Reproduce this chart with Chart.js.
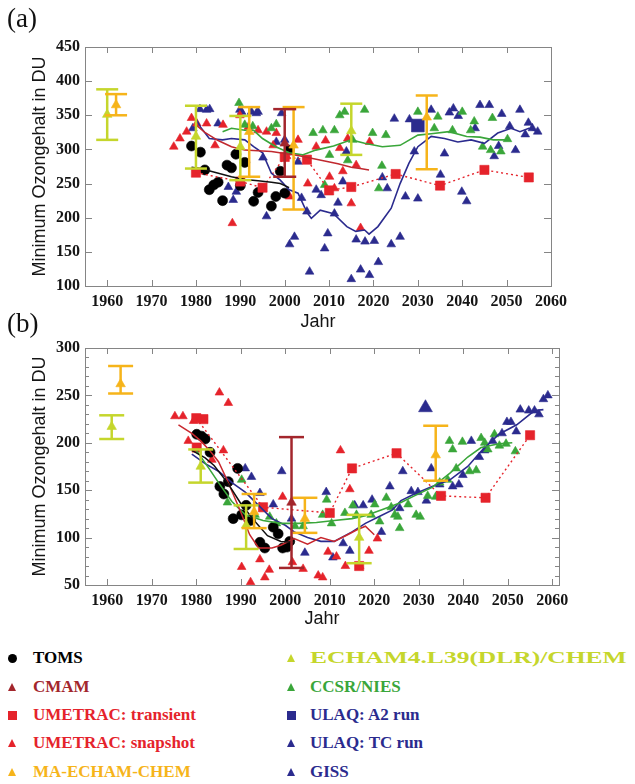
<!DOCTYPE html>
<html><head><meta charset="utf-8">
<script src="https://cdn.jsdelivr.net/npm/chart.js@4.4.0/dist/chart.umd.min.js"></script>
<style>
body{margin:0;background:#fff;width:635px;height:784px;overflow:hidden;position:relative;}
canvas{position:absolute;left:0;}
#ca{top:0}
#cb{top:333px}
.lab{position:absolute;left:7px;font-family:"Liberation Serif",serif;font-size:27px;color:#111;line-height:30px}
.leg{position:absolute;font-family:"Liberation Serif",serif;font-weight:bold;font-size:17px;white-space:nowrap;line-height:20px;height:20px}
.sym{position:absolute;}
.tri{width:0;height:0;border-left:4.5px solid transparent;border-right:4.5px solid transparent;border-bottom:8px solid}
.cir{width:9px;height:9px;border-radius:50%}
.sq{width:9px;height:9px}
</style>
</head>
<body>
<canvas id="ca" width="635" height="333"></canvas>
<canvas id="cb" width="635" height="297"></canvas>
<div class="lab" style="top:3px">(a)</div>
<div class="lab" style="top:308px">(b)</div>
<div id="legend"></div>
<script>
// ---------- axes ----------
const xTickYears = [1960,1970,1980,1990,2000,2010,2020,2030,2040,2050,2060];
const yTicksA = [100,150,200,250,300,350,400,450];
const yTicksB = [50,100,150,200,250,300];
const yMinorB = [60,70,80,90,110,120,130,140,160,170,180,190,210,220,230,240,260,270,280,290];

// ---------- colours ----------
const C_BLACK='#000000', C_CMAM='#a3262c', C_RED='#e5232b', C_MAE='#f6b41a', C_E4='#c5d62c', C_GREEN='#3aa63a', C_BLUE='#2b2b8e';

// ---------- panel (a) ----------
const tomsA_yr = [1979,1981,1982,1983,1984,1985,1986,1987,1988,1989,1990,1991,1993,1994,1997,1998,1999,2000,2001];
const tomsA_du = [305,296,270,241,248,252,225,277,273,293,247,281,224,237,217,231,268,236,299];
const tomsLineA_yr = [1979,1981,1984,1988,1991,1994,1997,1999,2001];
const tomsLineA_du = [274,272,267,260,256,254,252,250,244];

const cmamA_yr = [2000], cmamA_mid = [309], cmamA_lo = [260], cmamA_hi = [359];
const cmamLineA_yr = [1980,1982,1985,1988,1991,1994,1997,2000,2003,2006,2009,2012,2015,2017,2019];
const cmamLineA_du = [336,325,313,304,299,298,297,294,291,287,283,279,274,272,270];

const umtA_yr = [1980,1990,1995,2000,2005,2010,2015,2025,2035,2045,2055];
const umtA_du = [266,253,244,289,285,240,245,264,247,270,259];

const umsA_yr = [1975,1976.4,1977.9,1979,1980.2,1982.4,1984.3,1986.1,1988.2,1989.9,1991.8,1994,1995.9,1997.4,1998.1,2000.4,2001.1,2003,2005.2,2007.1,2009.2,2010.1,2011.2,2012.4,2013.1,2014.2,2015,2016.1,2017.1,2019.1];
const umsA_du = [304,316,326,346,338,338,306,336,192,350,333,328,326,306,324,290,231,314,250,304,313,260,243,302,268,316,221,277,185,311];

const maeA_yr = [1962,1992,2002,2032], maeA_mid = [365,326,306,347], maeA_lo = [350,260,212,271], maeA_hi = [381,362,362,379];
const e4A_yr = [1960,1980,1990,2015], e4A_mid = [351,319,304,327], e4A_lo = [314,272,255,292], e4A_hi = [388,364,349,367];

const ccsrA_yr = [1989.7,1991,1992.8,1997,1998.1,2006.4,2008.6,2009,2010.1,2011.2,2012.4,2013.5,2014.2,2015.3,2018,2019.8,2021.2,2021.9,2022.8,2030,2033.7,2034.5,2037.8,2040,2041.9,2042.7,2044.6,2046.4,2046.8,2048.7,2050.2];
const ccsrA_du = [368,336,334,331,337,324,328,248,292,328,350,355,284,314,358,324,243,276,321,355,331,348,328,355,328,341,304,299,346,297,315];
const ccsrLineA_yr = [1986,1988,1991,1993,1995,1998,2001,2004,2007,2011,2015,2018,2022,2026,2030,2033,2037,2041,2044,2047,2050];
const ccsrLineA_du = [326,331,328,328,316,304,295,292,299,305,314,309,304,306,321,323,326,319,318,314,314];

const ulaqA2A_yr = [2030], ulaqA2A_du = [335];

const blueA_yr = [1979.3,1980.9,1982.4,1983.1,1985,1987.3,1988.4,1989.1,1989.9,1990.3,1992.5,1993.6,1994,1995.1,1995.9,1998.1,1999.3,2000,2001.1,2002.2,2003,2003.8,2005,2005.6,2007.1,2008.2,2009,2009.7,2011.2,2012,2013.1,2013.9,2015,2016.1,2017.1,2018.1,2019.1,2020.2,2021.1,2022,2023.1,2024,2024.7,2026,2027.2,2028.1,2029.2,2030,2033,2035.1,2036,2037.1,2038,2039.1,2039.9,2041,2042.9,2044,2046.1,2047.2,2048.2,2048.9,2050.7,2052,2053,2054.2,2054.9,2055.8,2057];
const blueA_du = [331,359,358,359,338,245,226,238,358,355,355,353,355,288,202,311,353,314,161,172,282,229,209,121,241,233,155,177,206,222,253,297,110,168,124,165,116,166,135,259,243,161,345,172,231,344,297,228,358,263,294,354,360,349,238,224,331,365,365,290,305,352,334,299,358,322,339,331,326];
const blueLineA_yr = [1980,1981,1983,1986,1988,1991,1993,1995,1997,1999,2001,2003,2005,2006,2008,2011,2014,2016,2018,2019,2021,2024,2026,2028,2030,2032,2033,2036,2039,2042,2045,2048,2051,2053,2055,2057];
const blueLineA_du = [345,333,316,314,316,314,304,295,265,255,241,236,208,199,211,206,187,180,182,176,187,214,250,280,304,314,319,316,311,314,309,324,331,326,331,326];

// ---------- panel (b) ----------
const tomsB_yr = [1980.1,1981.2,1982,1983.1,1985.3,1986.2,1987.2,1988.3,1989.3,1990.2,1991.2,1992.2,1994.3,1995.4,1997.3,1998.4,1999.4,2000.4,2001];
const tomsB_du = [209,207,204,190,154,146,159,120,173,124,134,118,95,89,111,104,89,90,96];
const tomsLineB_yr = [1979,1982,1984,1987,1990,1993,1996,1999,2002];
const tomsLineB_du = [192,184,176,158,136,118,102,96,95];

const cmamB_yr = [2001.4], cmamB_mid = [137], cmamB_lo = [68], cmamB_hi = [206];
const redLineB_yr = [1976,1979,1981,1983,1985,1987,1990,1992,1994,1997,1999,2002,2005,2008,2011,2014,2016,2018,2020];
const redLineB_du = [219,210,202,192,180,160,127,103,89,89,92,99,93,100,96,103,108,112,103];

const umtB_yr = [1980,1995,2010,2015,2025,2035,2045,2055];
const umtB_du = [226,132,126,173,189,144,142,208];
const umtExtraB_yr = [1981.6,1980.1,2016.6];
const umtExtraB_du = [225,195,70];

const umsB_yr = [1975.2,1977,1978.2,1979.4,1983.5,1985.2,1986.1,1987.2,1990.2,1992.2,1994.3,1995.4,1996.4,1999.4,2001.6,2004,2007.4,2008.4,2009.6,2011.5,2012.4,2013.5,2014.5,2016.7,2018.8,2020.7];
const umsB_du = [228,228,202,223,182,253,192,242,69,53,77,58,66,143,74,67,60,58,85,80,192,70,151,70,86,99];

const maeB_yr = [1963,1993,2004.4,2033.8], maeB_mid = [262,127,120,187], maeB_lo = [252,110,105,160], maeB_hi = [281,146,142,218];
const e4B_yr = [1961,1981,1991.2,2016.6], e4B_mid = [217,175,113,100], e4B_lo = [204,158,88,73], e4B_hi = [229,193,134,124];

const ccsrB_yr = [1987,1990.2,1993.2,1996.5,1998,2002.2,2004,2008.4,2009.3,2010.4,2013.4,2015.2,2016,2019.3,2020.1,2021.2,2022.7,2023.8,2024.6,2025.3,2025.7,2027.6,2029.4,2030.3,2032,2033.8,2034.7,2036.5,2036.9,2037.6,2038.4,2039.8,2041.4,2042.9,2044,2044.8,2045.5,2047,2048.1,2049.6,2051.7];
const ccsrB_du = [137,161,124,122,115,112,112,124,140,115,126,134,124,124,135,117,142,132,124,122,110,135,124,122,144,143,158,161,202,193,173,201,170,171,205,200,193,209,197,199,191];
const ccsrLineB_yr = [1980,1983,1985,1988,1991,1995,1999,2003,2007,2011,2015,2018,2022,2026,2029,2033,2037,2041,2044,2048,2051];
const ccsrLineB_du = [192,172,158,138,124,118,115,115,116,118,120,123,130,137,144,153,168,185,195,199,200];

const ulaqA2B_yr = [2031.5], ulaqA2B_du = [237];

const blueB_yr = [1991,1992.4,1994.3,1997.3,1999.2,2001.4,2004.4,2009.2,2010.7,2013,2014.5,2015.6,2017.5,2019.5,2021.6,2023.5,2025.7,2026.4,2028.3,2029.8,2031.7,2032.8,2034.7,2037.6,2039,2039.9,2041.8,2043.6,2044.8,2046.6,2048.7,2049.8,2050.7,2051.9,2052.8,2054.7,2056,2057,2058,2059];
const blueB_du = [173,164,147,135,170,120,84,148,79,94,86,134,134,140,106,154,131,170,149,148,139,173,156,154,156,166,202,185,192,202,210,222,222,212,235,234,234,230,246,250];
const blueLineB_yr = [1979,1982,1985,1988,1991,1994,1997,2000,2002,2005,2008,2011,2015,2018,2021,2024,2026,2029,2033,2037,2041,2044,2048,2052,2056,2058];
const blueLineB_du = [188,178,170,158,148,134,120,113,106,100,96,96,106,115,122,129,139,146,154,161,175,191,209,219,234,235];

// ---------- helpers ----------
function pts(xs, ys){ return xs.map((x,i)=>({x:x, y:ys[i]})); }
function scatter(xs, ys, color, style, r, order){
  return {data:pts(xs,ys), showLine:false, pointStyle:style, pointRadius:r, pointHoverRadius:r,
          backgroundColor:color, borderColor:color, pointBorderWidth:0.6, order:order==null?3:order};
}
function line(xs, ys, color, w, dash, order){
  return {data:pts(xs,ys), showLine:true, pointRadius:0, pointHoverRadius:0, borderColor:color, backgroundColor:color,
          borderWidth:w, borderDash:dash||[], tension:0, order:order==null?2:order};
}
function errBars(xs, lo, hi, mid, color, cap){
  const out = xs.map((x,i)=>({data:[{x:x,y:lo[i]},{x:x,y:hi[i]}], showLine:true, borderColor:color, backgroundColor:color,
      borderWidth:2.5, pointStyle:'line', pointRadius:cap, pointHoverRadius:cap, pointBorderColor:color, pointBorderWidth:2.5, order:0}));
  out.push({data:pts(xs,mid), showLine:false, pointStyle:'triangle', pointRadius:5.5, backgroundColor:color, borderColor:color, pointBorderWidth:0.6, order:0});
  return out;
}

const framePlugin = {
  id:'frame',
  beforeDatasetsDraw(chart, args, o){
    const {ctx, chartArea:a, scales:{x,y}} = chart;
    ctx.save();
    ctx.strokeStyle='#858585'; ctx.lineWidth=1;
    ctx.strokeRect(Math.round(a.left)+0.5, Math.round(a.top)+0.5, Math.round(a.width), Math.round(a.height));
    ctx.beginPath();
    (o.xTicks||[]).forEach(v=>{const p=Math.round(x.getPixelForValue(v))+0.5; ctx.moveTo(p,a.bottom); ctx.lineTo(p,a.bottom-6); ctx.moveTo(p,a.top); ctx.lineTo(p,a.top+6);});
    (o.yTicks||[]).forEach(v=>{const p=Math.round(y.getPixelForValue(v))+0.5; ctx.moveTo(a.left,p); ctx.lineTo(a.left+7,p); ctx.moveTo(a.right,p); ctx.lineTo(a.right-7,p);});
    (o.yMinor||[]).forEach(v=>{const p=Math.round(y.getPixelForValue(v))+0.5; ctx.moveTo(a.left,p); ctx.lineTo(a.left+4,p); ctx.moveTo(a.right,p); ctx.lineTo(a.right-4,p);});
    ctx.stroke();
    ctx.restore();
  }
};

function makeOptions(xmin,xmax,ymin,ymax,yTicks,padTop,padRight,xAxisH,yMinor){
  const tickFont = {family:'Liberation Serif', weight:'bold', size:16};
  return {
    responsive:false, animation:false, events:[],
    layout:{padding:{top:padTop,right:padRight,left:0,bottom:0}},
    plugins:{legend:{display:false}, tooltip:{enabled:false}, frame:{xTicks:xTickYears, yTicks:yTicks, yMinor:yMinor}},
    scales:{
      x:{type:'linear', min:xmin, max:xmax,
         afterBuildTicks:ax=>{ax.ticks = xTickYears.map(v=>({value:v}));},
         afterFit:s=>{s.height = xAxisH;},
         grid:{display:false, drawTicks:false}, border:{display:false},
         ticks:{padding:6, font:tickFont, color:'#151515', maxRotation:0, autoSkip:false, callback:v=>String(v)},
         title:{display:true, text:'Jahr', font:{family:'Liberation Sans', size:18}, color:'#151515', padding:{top:0,bottom:0}}},
      y:{type:'linear', min:ymin, max:ymax,
         afterBuildTicks:ax=>{ax.ticks = yTicks.map(v=>({value:v}));},
         afterFit:s=>{s.width = 85;},
         grid:{display:false, drawTicks:false}, border:{display:false},
         ticks:{padding:5, font:tickFont, color:'#151515', autoSkip:false, callback:v=>String(v)},
         title:{display:true, text:'Minimum Ozongehalt in DU', font:{family:'Liberation Sans', size:18}, color:'#151515', padding:{top:29,bottom:0}}}
    }
  };
}

// ---------- chart (a) ----------
new Chart(document.getElementById('ca'), {
  type:'scatter',
  data:{datasets:[
    ...errBars(cmamA_yr, cmamA_lo, cmamA_hi, cmamA_mid, C_CMAM, 11.5),
    ...errBars(maeA_yr, maeA_lo, maeA_hi, maeA_mid, C_MAE, 11),
    ...errBars(e4A_yr, e4A_lo, e4A_hi, e4A_mid, C_E4, 11),
    line(tomsLineA_yr, tomsLineA_du, '#111111', 1.5),
    line(cmamLineA_yr, cmamLineA_du, '#c0282e', 1.5),
    line(ccsrLineA_yr, ccsrLineA_du, C_GREEN, 1.6),
    line(blueLineA_yr, blueLineA_du, C_BLUE, 1.6),
    line(umtA_yr, umtA_du, C_RED, 1.4, [2,3]),
    scatter(umtA_yr, umtA_du, C_RED, 'rect', 6.5, 2),
    scatter(ulaqA2A_yr, ulaqA2A_du, C_BLUE, 'rect', 9, 2),
    scatter(tomsA_yr, tomsA_du, C_BLACK, 'circle', 5, 3),
    scatter(ccsrA_yr, ccsrA_du, C_GREEN, 'triangle', 5, 4),
    scatter(umsA_yr, umsA_du, C_RED, 'triangle', 5, 4),
    scatter(blueA_yr, blueA_du, C_BLUE, 'triangle', 5, 4)
  ]},
  options: makeOptions(1955,2060,100,450,yTicksA,47,84,47,[]),
  plugins:[framePlugin]
});

// ---------- chart (b) ----------
new Chart(document.getElementById('cb'), {
  type:'scatter',
  data:{datasets:[
    ...errBars(cmamB_yr, cmamB_lo, cmamB_hi, cmamB_mid, C_CMAM, 12.5),
    ...errBars(maeB_yr, maeB_lo, maeB_hi, maeB_mid, C_MAE, 12.5),
    ...errBars(e4B_yr, e4B_lo, e4B_hi, e4B_mid, C_E4, 12.5),
    line(tomsLineB_yr, tomsLineB_du, '#111111', 1.5),
    line(redLineB_yr, redLineB_du, '#c8282e', 1.5),
    line(ccsrLineB_yr, ccsrLineB_du, C_GREEN, 1.6),
    line(blueLineB_yr, blueLineB_du, C_BLUE, 1.6),
    line(umtB_yr, umtB_du, C_RED, 1.4, [2,3]),
    scatter(umtB_yr, umtB_du, C_RED, 'rect', 6.5, 2),
    scatter(umtExtraB_yr, umtExtraB_du, C_RED, 'rect', 6.5, 2),
    scatter(ulaqA2B_yr, ulaqA2B_du, C_BLUE, 'triangle', 8, 2),
    scatter(tomsB_yr, tomsB_du, C_BLACK, 'circle', 5, 3),
    scatter(ccsrB_yr, ccsrB_du, C_GREEN, 'triangle', 5, 4),
    scatter(umsB_yr, umsB_du, C_RED, 'triangle', 5, 4),
    scatter(blueB_yr, blueB_du, C_BLUE, 'triangle', 5, 4)
  ]},
  options: makeOptions(1955,2061.5,50,300,yTicksB,8,76,45,yMinorB),
  plugins:[framePlugin]
});

// ---------- legend ----------
const legendLabels = ['TOMS','CMAM','UMETRAC: transient','UMETRAC: snapshot','MA-ECHAM-CHEM',
                      'ECHAM4.L39(DLR)/CHEM','CCSR/NIES','ULAQ: A2 run','ULAQ: TC run','GISS'];
const legendColors = [C_BLACK,C_CMAM,C_RED,C_RED,C_MAE,C_E4,C_GREEN,C_BLUE,C_BLUE,C_BLUE];
const legendShapes = ['cir','tri','sq','tri','tri','tri','tri','sq','tri','tri'];
const rowY = [658,687,715,743,772];
const leg = document.getElementById('legend');
legendLabels.forEach((t,i)=>{
  const col = i<5?0:1, row = i%5;
  const sx = col? 287 : 8, tx = col? 310 : 33;
  const s = document.createElement('div');
  s.className = 'sym ' + legendShapes[i];
  if (legendShapes[i]==='tri'){ s.style.borderBottomColor = legendColors[i]; }
  else { s.style.background = legendColors[i]; }
  s.style.left = sx+'px'; s.style.top = (rowY[row]-4)+'px';
  leg.appendChild(s);
  const d = document.createElement('div');
  d.className = 'leg'; d.textContent = t; d.style.color = legendColors[i];
  d.style.left = tx+'px'; d.style.top = (rowY[row]-10)+'px';
  if (i===5){ d.style.transformOrigin = 'left center'; d.style.transform = 'scaleX(1.5)'; }
  leg.appendChild(d);
});
</script>
</body></html>
